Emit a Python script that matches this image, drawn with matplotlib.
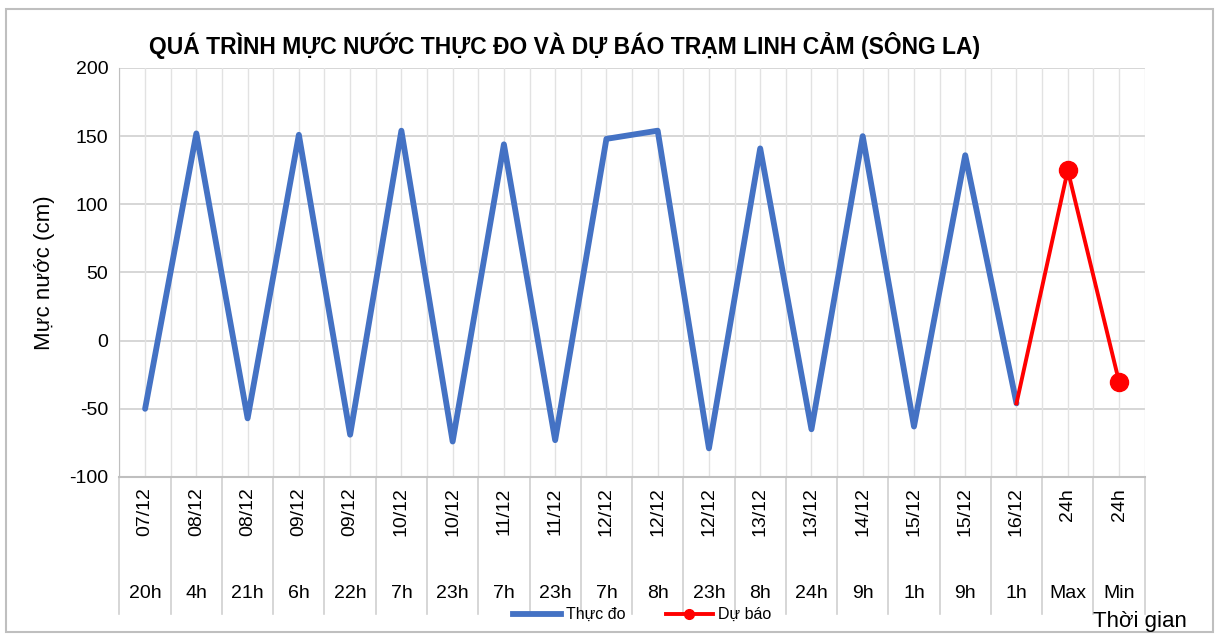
import matplotlib.pyplot as plt
import matplotlib.transforms as mtransforms
from matplotlib.patches import Rectangle
from matplotlib.lines import Line2D

plt.rcParams['font.family'] = ['Liberation Sans', 'DejaVu Sans']
plt.rcParams['axes.unicode_minus'] = False

# data
dates = ['07/12', '08/12', '08/12', '09/12', '09/12', '10/12', '10/12', '11/12', '11/12',
         '12/12', '12/12', '12/12', '13/12', '13/12', '14/12', '15/12', '15/12', '16/12', '24h', '24h']
hours = ['20h', '4h', '21h', '6h', '22h', '7h', '23h', '7h', '23h', '7h', '8h', '23h',
         '8h', '24h', '9h', '1h', '9h', '1h', 'Max', 'Min']
observed = [-50, 152, -57, 151, -69, 154, -74, 144, -73, 148, 154, -79, 141, -65, 150, -63, 136, -46]
forecast = [-46, 125, -30]

n = len(hours)
x_obs = list(range(len(observed)))
x_fc = list(range(len(observed) - 1, n))

fig = plt.figure(figsize=(12.19, 6.37), dpi=100)
ax = fig.add_axes([0.098, 0.2512, 0.841, 0.6421])

# frame around whole chart
fig.patches.append(Rectangle((0.005, 0.008), 0.99, 0.978, transform=fig.transFigure,
                             fill=False, edgecolor='#bfbfbf', linewidth=1.5))

ax.plot(x_obs, observed, color='#4472C4', linewidth=4.2, solid_joinstyle='round',
        solid_capstyle='round', zorder=3)
ax.plot(x_fc, forecast, color='#FF0000', linewidth=2.8, zorder=4)
ax.plot(x_fc[1:], forecast[1:], 'o', color='#FF0000', markersize=13, zorder=5)

ax.set_xlim(-0.5, n - 0.5)
ax.set_ylim(-100, 200)
ax.set_yticks(range(-100, 201, 50))
ax.tick_params(axis='y', length=0, labelsize=14, pad=8)
ax.set_xticks([])

for v in range(-50, 201, 50):
    ax.axhline(v, color='#d0d0d0', linewidth=1.2, zorder=1)
for i in range(2 * n + 1):
    ax.axvline(-0.5 + i * 0.5, color='#e2e2e2', linewidth=1.0, zorder=1)

for s in ['top', 'right']:
    ax.spines[s].set_visible(False)
ax.spines['left'].set_color('#bfbfbf')
ax.spines['bottom'].set_color('#bfbfbf')
ax.spines['bottom'].set_linewidth(1.5)

ax.set_ylabel('Mực nước (cm)', fontsize=16, labelpad=10)

# multi-level category labels
trans = mtransforms.blended_transform_factory(ax.transData, ax.transAxes)
for i in range(n + 1):
    ax.plot([i - 0.5, i - 0.5], [0, -0.335], transform=trans, color='#d0d0d0',
            linewidth=1.2, clip_on=False)
for i in range(n):
    if dates[i] == '24h':
        ax.text(i, -0.028, dates[i], transform=trans, rotation=90, ha='center', va='top', fontsize=14)
    else:
        ax.text(i, -0.085, dates[i], transform=trans, rotation=90, ha='center', va='center', fontsize=14)
    ax.text(i, -0.284, hours[i], transform=trans, ha='center', va='center', fontsize=14)

fig.text(0.935, 0.025, 'Thời gian', fontsize=16, ha='center', va='center')

handles = [Line2D([], [], color='#4472C4', linewidth=4.2),
           Line2D([], [], color='#FF0000', linewidth=2.8, marker='o', markersize=7)]
fig.legend(handles, ['Thực đo', 'Dự báo'], loc='center', bbox_to_anchor=(0.527, 0.035), ncol=2,
           frameon=False, fontsize=11.5, handlelength=3.0, columnspacing=2.5, handletextpad=0.3)

fig.text(0.4635, 0.928, 'QUÁ TRÌNH MỰC NƯỚC THỰC ĐO VÀ DỰ BÁO TRẠM LINH CẢM (SÔNG LA)',
         fontsize=16.5, fontweight='bold', ha='center', va='center')

fig.savefig('out.png', dpi=100)
